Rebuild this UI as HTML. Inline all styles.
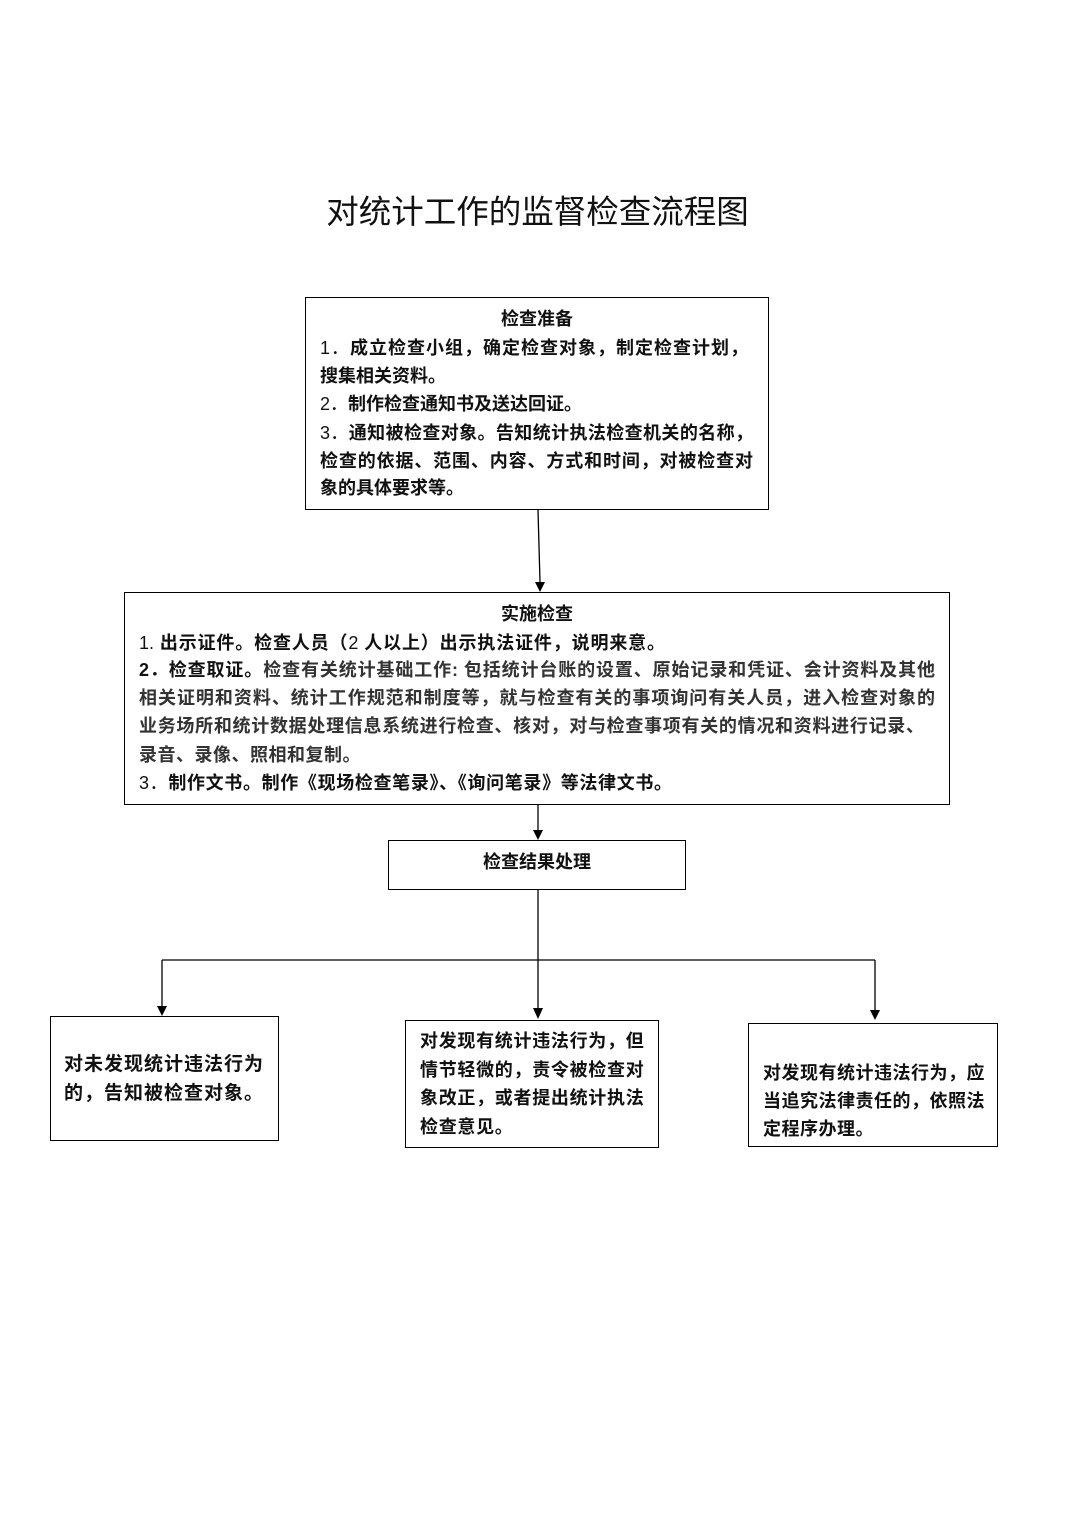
<!DOCTYPE html>
<html><head><meta charset="utf-8"><style>
body{margin:0;background:#fff;}
#c{position:relative;width:1075px;height:1520px;font-family:"Liberation Sans","Noto Sans CJK SC",sans-serif;color:#111;}
.b{position:absolute;border:1.5px solid #000;box-sizing:border-box;}
.l{position:absolute;font-size:18px;line-height:28px;font-weight:bold;white-space:nowrap;}
.j{text-align:justify;text-align-last:justify;}
.t{position:absolute;left:0;width:1075px;text-align:center;top:190px;font-size:32.5px;line-height:44px;font-family:"Liberation Sans","Noto Sans CJK SC",sans-serif;}
</style></head><body><div id="c">
<div class="t">对统计工作的监督检查流程图</div>
<div class="b" style="left:305px;top:297px;width:464px;height:213px"></div>
<div class="l" style="left:305px;width:464px;text-align:center;top:305px">检查准备</div>
<div class="l j" style="left:320px;width:428px;top:334px"><span style="font-weight:normal">1．</span>成立检查小组，确定检查对象，制定检查计划，</div>
<div class="l" style="left:320px;top:362px">搜集相关资料。</div>
<div class="l" style="left:320px;top:390px"><span style="font-weight:normal">2．</span>制作检查通知书及送达回证。</div>
<div class="l j" style="left:320px;width:433px;top:419px"><span style="font-weight:normal">3．</span>通知被检查对象。告知统计执法检查机关的名称，</div>
<div class="l j" style="left:320px;width:433px;top:447px">检查的依据、范围、内容、方式和时间，对被检查对</div>
<div class="l" style="left:320px;top:474px">象的具体要求等。</div>

<div class="b" style="left:124px;top:592px;width:826px;height:213px"></div>
<div class="l" style="left:124px;width:826px;text-align:center;top:600px">实施检查</div>
<div class="l j" style="left:139px;width:526px;top:629px"><span style="font-weight:normal">1. </span>出示证件。检查人员（<span style="font-weight:normal">2</span> 人以上）出示执法证件，说明来意。</div>
<div class="l j" style="left:139px;width:796px;top:656px">2．检查取证。<span style="color:#333">检查有关统计基础工作: 包括统计台账的设置、原始记录和凭证、会计资料及其他</span></div>
<div class="l j" style="left:139px;width:796px;top:684px;color:#333">相关证明和资料、统计工作规范和制度等，就与检查有关的事项询问有关人员，进入检查对象的</div>
<div class="l j" style="left:139px;width:785px;top:712px;color:#333">业务场所和统计数据处理信息系统进行检查、核对，对与检查事项有关的情况和资料进行记录、</div>
<div class="l" style="left:139px;top:741px;color:#333;letter-spacing:0.5px">录音、录像、照相和复制。</div>
<div class="l j" style="left:139px;width:533px;top:769px"><span style="font-weight:normal">3．</span>制作文书。制作《现场检查笔录》、《询问笔录》等法律文书。</div>

<div class="b" style="left:388px;top:840px;width:298px;height:50px"></div>
<div class="l" style="left:388px;width:298px;text-align:center;top:848px">检查结果处理</div>

<div class="b" style="left:50px;top:1016px;width:229px;height:125px"></div>
<div class="l" style="left:64px;top:1051px;font-size:19px;letter-spacing:1px">对未发现统计违法行为</div>
<div class="l" style="left:64px;top:1080px;font-size:19px;letter-spacing:1px">的，告知被检查对象。</div>

<div class="b" style="left:405px;top:1020px;width:254px;height:128px"></div>
<div class="l" style="left:420px;top:1027px;letter-spacing:0.7px">对发现有统计违法行为，但</div>
<div class="l" style="left:420px;top:1056px;letter-spacing:0.7px">情节轻微的，责令被检查对</div>
<div class="l" style="left:420px;top:1084px;letter-spacing:0.7px">象改正，或者提出统计执法</div>
<div class="l" style="left:420px;top:1113px;letter-spacing:0.7px">检查意见。</div>

<div class="b" style="left:748px;top:1023px;width:250px;height:124px"></div>
<div class="l" style="left:763px;top:1059px;letter-spacing:0.5px">对发现有统计违法行为，应</div>
<div class="l" style="left:763px;top:1087px;letter-spacing:0.5px">当追究法律责任的，依照法</div>
<div class="l" style="left:763px;top:1115px;letter-spacing:0.5px">定程序办理。</div>

<svg style="position:absolute;left:0;top:0" width="1075" height="1520">
<g stroke="#000" stroke-width="1.3" fill="none">
<line x1="538" y1="510" x2="540" y2="582"/>
<line x1="538" y1="805" x2="538" y2="830"/>
<line x1="538" y1="890" x2="538" y2="1008"/>
<line x1="162" y1="960" x2="875" y2="960"/>
<line x1="162" y1="960" x2="162" y2="1006"/>
<line x1="875" y1="960" x2="875" y2="1010"/>
</g>
<g fill="#000">
<polygon points="535,582 545,582 540,592"/>
<polygon points="533,830 543,830 538,840"/>
<polygon points="533,1008 543,1008 538,1019"/>
<polygon points="157,1006 167,1006 162,1016"/>
<polygon points="870,1010 880,1010 875,1020"/>
</g>
</svg>
</div></body></html>
